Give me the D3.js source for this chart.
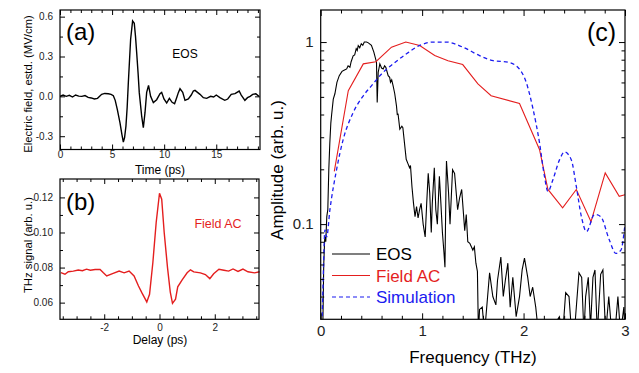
<!DOCTYPE html>
<html><head><meta charset="utf-8">
<script src="https://cdn.jsdelivr.net/npm/d3@7"></script>
<style>
body{margin:0;background:#fff;}
svg{display:block;font-family:"Liberation Sans",Arial,sans-serif;}
.tick text{fill:#222;}
</style></head>
<body><svg id="c" width="639" height="373"></svg>
<script>
// ---------- Panel (a): EOS time trace ----------
const eosTime = [0,0.3,0.6,0.9,1.2,1.5,1.8,2.1,2.4,2.7,3.0,3.3,3.6,4.0,4.3,4.64,4.9,5.12,5.3,5.5,5.76,5.95,6.08,6.2,6.33,6.45,6.56,6.78,6.97,7.13,7.25,7.36,7.5,7.61,7.84,8.0,8.16,8.32,8.5,8.7,8.96,9.28,9.6,9.76,9.98,10.24,10.5,10.76,11.0,11.2,11.36,11.52,11.78,12.0,12.32,12.6,12.8,12.96,13.2,13.44,13.76,14.08,14.46,14.75,15.0,15.35,15.82,16.1,16.44,16.8,17.2,17.4,17.75,18.0,18.25,18.5,18.8,19.1];
const eosField = [0.0,0.01,0.0,0.008,-0.005,0.01,0.002,0.0,0.006,-0.008,-0.012,-0.02,-0.015,0.015,0.022,0.02,0.015,0.005,-0.03,-0.098,-0.2,-0.29,-0.345,-0.31,-0.224,-0.08,0.103,0.43,0.568,0.55,0.45,0.33,0.17,0.028,-0.148,-0.236,-0.123,0.03,0.083,0.0,-0.047,-0.025,0.02,0.03,-0.02,-0.05,-0.015,-0.045,-0.055,-0.01,0.028,0.058,0.03,-0.03,-0.02,0.01,0.04,0.045,0.03,0.015,-0.01,-0.015,0.0,-0.005,0.01,-0.01,-0.03,-0.02,0.015,0.02,0.04,0.01,-0.03,-0.01,0.0,0.015,0.02,0.0];
const aXTicks = [0,5,10,15];
const aYTicks = [-0.3,0.0,0.3,0.6];

// ---------- Panel (b): field autocorrelation ----------
const acDelay = [-3.57,-3.42,-3.3,-3.12,-2.94,-2.79,-2.64,-2.5,-2.33,-2.15,-2.03,-1.91,-1.7,-1.46,-1.28,-1.1,-0.92,-0.76,-0.64,-0.46,-0.36,-0.24,-0.12,0.0,0.08,0.17,0.29,0.39,0.47,0.58,0.66,0.82,1.0,1.12,1.24,1.48,1.66,1.82,1.96,2.15,2.33,2.5,2.66,2.84,3.02,3.2,3.44,3.62];
const acSignal = [0.0771,0.0762,0.0776,0.078,0.0786,0.0782,0.0791,0.0785,0.0789,0.0789,0.0770,0.0752,0.0765,0.078,0.077,0.078,0.0752,0.0695,0.0657,0.0604,0.0648,0.0829,0.1057,0.1224,0.119,0.100,0.080,0.066,0.0596,0.062,0.069,0.073,0.077,0.0787,0.0775,0.077,0.076,0.0737,0.0765,0.079,0.0785,0.078,0.0792,0.0778,0.0791,0.0776,0.077,0.0776];
const bXTicks = [-2,0,2];
const bYTicks = [0.06,0.08,0.10,0.12];

// ---------- Panel (c): spectra ----------
const specEosF = [0.0,0.02,0.03,0.04,0.05,0.06,0.07,0.08,0.09,0.10,0.108,0.124,0.14,0.16,0.183,0.21,0.23,0.256,0.27,0.288,0.30,0.32,0.335,0.35,0.36,0.37,0.385,0.40,0.415,0.43,0.452,0.47,0.50,0.524,0.55,0.557,0.567,0.583,0.60,0.616,0.63,0.642,0.665,0.68,0.688,0.70,0.714,0.73,0.747,0.755,0.763,0.78,0.80,0.81,0.843,0.86,0.876,0.885,0.90,0.915,0.93,0.945,0.96,0.975,0.99,1.01,1.03,1.045,1.06,1.075,1.09,1.10,1.12,1.135,1.15,1.17,1.185,1.20,1.215,1.225,1.235,1.24,1.26,1.275,1.30,1.32,1.35,1.37,1.39,1.40,1.42,1.435,1.45,1.47,1.50,1.515,1.53,1.545,1.555,1.566,1.593,1.615,1.665,1.697,1.727,1.743,1.776,1.80,1.82,1.845,1.868,1.894,1.927,1.96,1.986,2.009,2.041,2.065,2.09,2.12,2.147,2.25,2.353,2.386,2.415,2.448,2.474,2.50,2.546,2.573,2.595,2.612,2.638,2.66,2.684,2.704,2.727,2.76,2.782,2.809,2.84,2.87,2.90,2.93,2.956,2.989,3.0];
const specEosA = [0.02,0.025,0.06,0.085,0.08,0.11,0.12,0.2,0.28,0.36,0.40,0.486,0.52,0.60,0.654,0.69,0.70,0.712,0.74,0.727,0.78,0.84,0.85,0.92,0.90,0.957,0.93,0.98,0.96,1.0,1.0,0.99,0.96,0.88,0.775,0.466,0.683,0.759,0.72,0.712,0.74,0.727,0.654,0.64,0.601,0.62,0.575,0.52,0.446,0.40,0.401,0.332,0.345,0.339,0.227,0.215,0.204,0.21,0.16,0.13,0.11,0.125,0.108,0.12,0.13,0.10,0.085,0.13,0.19,0.148,0.09,0.13,0.204,0.12,0.10,0.183,0.13,0.09,0.07,0.058,0.16,0.222,0.15,0.10,0.199,0.19,0.12,0.14,0.155,0.13,0.092,0.113,0.08,0.0785,0.072,0.075,0.061,0.055,0.025,0.034,0.035,0.025,0.054,0.040,0.036,0.049,0.066,0.040,0.049,0.061,0.035,0.051,0.031,0.040,0.056,0.065,0.051,0.040,0.045,0.035,0.025,0.025,0.031,0.025,0.042,0.040,0.025,0.025,0.054,0.051,0.025,0.040,0.051,0.027,0.051,0.056,0.025,0.053,0.056,0.025,0.040,0.025,0.025,0.040,0.025,0.035,0.025];
const specAcF = [0.134,0.272,0.42,0.544,0.698,0.839,0.976,1.124,1.255,1.40,1.55,1.68,1.96,2.157,2.24,2.385,2.52,2.665,2.805,2.943,3.0];
const specAcA = [0.195,0.54,0.759,0.78,0.938,1.0,0.958,0.843,0.79,0.752,0.589,0.507,0.46,0.257,0.155,0.123,0.155,0.103,0.191,0.142,0.145];
const simF = [0.005,0.02,0.042,0.059,0.091,0.157,0.222,0.32,0.42,0.50,0.60,0.714,0.846,0.976,1.107,1.24,1.40,1.566,1.70,1.845,1.943,2.026,2.09,2.157,2.206,2.24,2.29,2.355,2.404,2.47,2.52,2.57,2.62,2.70,2.76,2.845,2.91,2.96,3.0];
const simA = [0.02,0.04,0.093,0.085,0.12,0.20,0.292,0.41,0.507,0.575,0.668,0.759,0.862,0.958,1.0,1.0,0.938,0.843,0.79,0.775,0.727,0.601,0.437,0.28,0.183,0.151,0.176,0.226,0.249,0.226,0.161,0.11,0.091,0.113,0.11,0.082,0.069,0.072,0.10];
const cXTicks = [0,1,2,3];
const cYTicks = [0.1,1];
const legendNames = ["EOS","Field AC","Simulation"];

const svg = d3.select("#c");
const RED = "#e41e1e", BLUE = "#1b1bf0";
const hy = f => d => f(d).replace("\u2212","-");

function frame(g, x, y) {
  const [x0,x1] = x.range(), [y0,y1] = y.range();
  g.append("rect").attr("x",x0).attr("y",y1).attr("width",x1-x0).attr("height",y0-y1)
    .attr("fill","none").attr("stroke","#000").attr("stroke-width",1.2);
}
function axes(g, x, y, o) {
  const [x0,x1] = x.range(), [y0,y1] = y.range();
  const add = (gen, tx, ty, labels) => {
    const a = g.append("g").attr("transform",`translate(${tx},${ty})`).call(gen);
    a.select(".domain").remove();
    a.selectAll("line").attr("stroke","#000").attr("stroke-width",1);
    a.selectAll("text").attr("font-size",o.fs).attr("fill","#222");
    if(!labels) a.selectAll("text").remove();
    return a;
  };
  add(d3.axisBottom(x).tickValues(o.xt).tickFormat(o.xf).tickSize(-o.maj).tickPadding(o.xpad), 0, y0, true);
  add(d3.axisBottom(x).tickValues(o.xm).tickFormat("").tickSize(-o.min), 0, y0, false);
  add(d3.axisTop(x).tickValues(o.xt).tickSize(-o.maj), 0, y1, false);
  add(d3.axisTop(x).tickValues(o.xm).tickSize(-o.min), 0, y1, false);
  add(d3.axisLeft(y).tickValues(o.yt).tickFormat(o.yf).tickSize(-o.maj).tickPadding(o.ypad), x0, 0, true);
  add(d3.axisLeft(y).tickValues(o.ym).tickFormat("").tickSize(-o.min), x0, 0, false);
  add(d3.axisRight(y).tickValues(o.yt).tickSize(-o.maj), x1, 0, false);
  add(d3.axisRight(y).tickValues(o.ym).tickSize(-o.min), x1, 0, false);
}
function range(a,b,s){const r=[];for(let v=a;v<=b+1e-9;v+=s)r.push(+v.toFixed(6));return r;}

// ----- Panel (a) -----
{
  const x = d3.scaleLinear().domain([0,19.2]).range([60,260]);
  const y = d3.scaleLinear().domain([-0.4,0.65]).range([149.5,10]);
  const g = svg.append("g");
  g.append("defs").append("clipPath").attr("id","ca").append("rect")
    .attr("x",60).attr("y",10).attr("width",200).attr("height",139.5);
  g.append("path").datum(eosTime.map((t,i)=>[t,eosField[i]]))
    .attr("clip-path","url(#ca)")
    .attr("d",d3.line().x(d=>x(d[0])).y(d=>y(d[1])))
    .attr("fill","none").attr("stroke","#000").attr("stroke-width",1.4);
  axes(g,x,y,{xt:aXTicks,xm:range(0,19,1).filter(v=>v%5),xf:d3.format("d"),yt:aYTicks,
    ym:[-0.15,0.15,0.45],yf:hy(d3.format(".1f")),maj:5,min:3,fs:10,xpad:1,ypad:7});
  frame(g,x,y);
  g.append("text").attr("x",160).attr("y",174).attr("text-anchor","middle").attr("font-size",12).text("Time (ps)");
  g.append("text").attr("transform","translate(32,84) rotate(-90)").attr("text-anchor","middle").attr("font-size",11.3).text("Electric field, estd. (MV/cm)");
  g.append("text").attr("x",66).attr("y",40).attr("font-size",24).text("(a)");
  g.append("text").attr("x",185).attr("y",58).attr("text-anchor","middle").attr("font-size",12).text("EOS");
}
// ----- Panel (b) -----
{
  const x = d3.scaleLinear().domain([-3.6,3.6]).range([60,259]);
  const y = d3.scaleLinear().domain([0.0505,0.1305]).range([319.3,179]);
  const g = svg.append("g");
  g.append("path").datum(acDelay.map((t,i)=>[t,acSignal[i]]))
    .attr("d",d3.line().x(d=>x(d[0])).y(d=>y(d[1])))
    .attr("fill","none").attr("stroke",RED).attr("stroke-width",1.4);
  axes(g,x,y,{xt:bXTicks,xm:range(-3.5,3.5,0.5).filter(v=>Math.abs(v%2)>1e-9),xf:hy(d3.format("d")),yt:bYTicks,
    ym:[0.07,0.09,0.11],yf:d3.format(".2f"),maj:5,min:3,fs:10,xpad:5,ypad:7});
  frame(g,x,y);
  g.append("text").attr("x",160).attr("y",344).attr("text-anchor","middle").attr("font-size",12).text("Delay (ps)");
  g.append("text").attr("transform","translate(32,245) rotate(-90)").attr("text-anchor","middle").attr("font-size",11.3).text("THz signal (arb. u.)");
  g.append("text").attr("x",66).attr("y",210).attr("font-size",24).text("(b)");
  g.append("text").attr("x",218).attr("y",228).attr("text-anchor","middle").attr("font-size",12.5).attr("fill",RED).text("Field AC");
}
// ----- Panel (c) -----
{
  const x = d3.scaleLinear().domain([0,3]).range([320.7,625]);
  const y = d3.scaleLog().domain([0.03,1.5]).range([319.3,10]);
  const g = svg.append("g");
  g.append("defs").append("clipPath").attr("id","cc").append("rect")
    .attr("x",320.7).attr("y",10).attr("width",304.3).attr("height",309.3);
  const line = d3.line().x(d=>x(d[0])).y(d=>y(d[1]));
  g.append("path").datum(specEosF.map((f,i)=>[f,specEosA[i]])).attr("clip-path","url(#cc)")
    .attr("d",line).attr("fill","none").attr("stroke","#000").attr("stroke-width",1.1);
  g.append("path").datum(specAcF.map((f,i)=>[f,specAcA[i]])).attr("clip-path","url(#cc)")
    .attr("d",line).attr("fill","none").attr("stroke",RED).attr("stroke-width",1.1);
  g.append("path").datum(simF.map((f,i)=>[f,simA[i]])).attr("clip-path","url(#cc)")
    .attr("d",d3.line().curve(d3.curveMonotoneX).x(d=>x(d[0])).y(d=>y(d[1])))
    .attr("fill","none").attr("stroke",BLUE).attr("stroke-width",1.3).attr("stroke-dasharray","4,3");
  axes(g,x,y,{xt:cXTicks,xm:range(0,3,0.2).filter(v=>Math.abs(v-Math.round(v))>1e-6),xf:d3.format("d"),yt:cYTicks,
    ym:[0.04,0.05,0.06,0.07,0.08,0.09,0.2,0.3,0.4,0.5,0.6,0.7,0.8,0.9],yf:d=>d===1?"1":"0.1",maj:6,min:3.5,fs:15,xpad:6,ypad:7});
  frame(g,x,y);
  g.append("text").attr("x",473).attr("y",363).attr("text-anchor","middle").attr("font-size",17).text("Frequency (THz)");
  g.append("text").attr("transform","translate(283,170) rotate(-90)").attr("text-anchor","middle").attr("font-size",17).text("Amplitude (arb. u.)");
  g.append("text").attr("x",587).attr("y",41).attr("font-size",25).text("(c)");
  const cols = ["#000",RED,BLUE];
  legendNames.forEach((n,i)=>{
    const yy = 254 + i*21.5;
    g.append("line").attr("x1",332).attr("x2",370).attr("y1",yy).attr("y2",yy)
      .attr("stroke",cols[i]).attr("stroke-width",1.2).attr("stroke-dasharray",i===2?"4,3":null);
    g.append("text").attr("x",376).attr("y",yy+6).attr("font-size",17).attr("fill",cols[i]).text(n);
  });
}
</script></body></html>
